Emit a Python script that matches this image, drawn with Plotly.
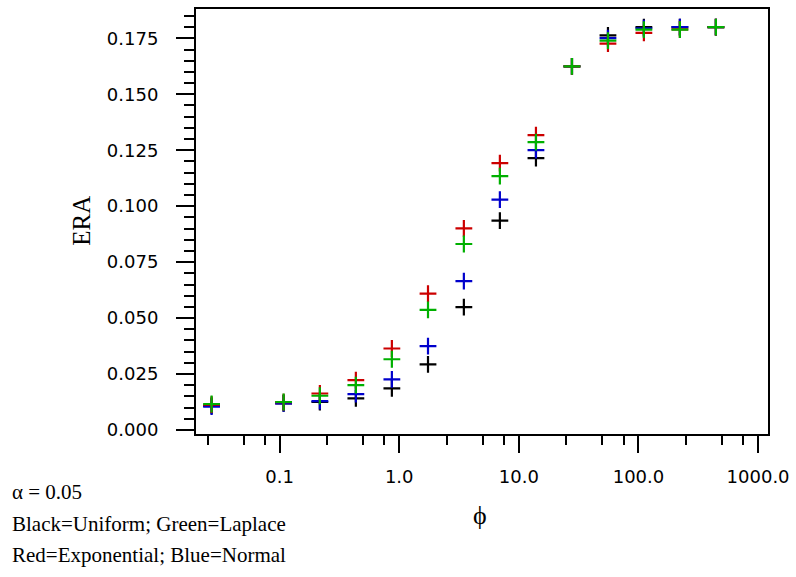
import plotly.graph_objects as go

phi = [0.027, 0.108, 0.217, 0.434, 0.868, 1.74, 3.47, 6.94, 13.9, 27.8, 55.6, 111, 222, 444]
era_uniform = [0.0108, 0.0119, 0.0125, 0.0141, 0.0186, 0.0293, 0.0549, 0.0935, 0.1215, 0.1625, 0.1763, 0.1800, 0.1800, 0.1800]
era_normal = [0.0104, 0.0119, 0.0129, 0.0160, 0.0226, 0.0375, 0.0665, 0.1029, 0.1250, 0.1625, 0.1751, 0.1795, 0.1800, 0.1800]
era_exponential = [0.0113, 0.0124, 0.0163, 0.0223, 0.0364, 0.0609, 0.0901, 0.1192, 0.1317, 0.1625, 0.1726, 0.1774, 0.1790, 0.1800]
era_laplace = [0.0116, 0.0125, 0.0153, 0.0200, 0.0316, 0.0537, 0.0831, 0.1134, 0.1286, 0.1625, 0.1740, 0.1789, 0.1789, 0.1800]

x_tickvals = [0.1, 1, 10, 100, 1000]
x_ticktext = ["0.1", "1.0", "10.0", "100.0", "1000.0"]
x_minorvals = [m * 10.0 ** e for e in range(-2, 3) for m in (2.5, 5, 7.5)]

series = [
    ("Uniform", era_uniform, "#000000"),
    ("Normal", era_normal, "#0000cc"),
    ("Exponential", era_exponential, "#cc0000"),
    ("Laplace", era_laplace, "#00b000"),
]

fig = go.Figure()
for name, vals, col in series:
    fig.add_trace(go.Scatter(
        x=phi, y=vals, mode="markers", name=name,
        marker=dict(symbol="cross-thin", size=12, color=col,
                    line=dict(color=col, width=2.2)),
        showlegend=False,
    ))

tickfont = dict(family="DejaVu Sans", size=18, color="black")
fig.update_xaxes(
    type="log", range=[-1.699, 3.083],
    tickmode="array", tickvals=x_tickvals, ticktext=x_ticktext,
    ticks="outside", ticklen=17, tickwidth=2, tickcolor="black",
    minor=dict(tickmode="array", tickvals=x_minorvals, ticks="outside",
               ticklen=9, tickwidth=2, tickcolor="black", showgrid=False),
    showline=True, linewidth=2, linecolor="black", mirror=True,
    showgrid=False, zeroline=False, tickfont=tickfont, ticklabelstandoff=8,
)
fig.update_yaxes(
    range=[-0.0018, 0.1881], tickmode="linear", tick0=0, dtick=0.025,
    tickformat=".3f",
    ticks="outside", ticklen=18, tickwidth=2, tickcolor="black",
    minor=dict(dtick=0.005, ticks="outside", ticklen=10, tickwidth=2,
               tickcolor="black", showgrid=False),
    showline=True, linewidth=2, linecolor="black", mirror=True,
    showgrid=False, zeroline=False, tickfont=tickfont, ticklabelstandoff=14,
)

serif = "Liberation Serif, Times New Roman, serif"
W = 771.7 - 196
H = 434 - 7

def px(x):
    return (x - 196) / W

def py(y):
    return (434 - y) / H

annotations = [
    dict(text="ERA", x=px(80), y=py(220), textangle=-90,
         font=dict(family=serif, size=25, color="black")),
    dict(text="\u03d5", x=px(482), y=py(516),
         font=dict(family=serif, size=26, color="black")),
    dict(text="\u03b1 = 0.05", x=px(9), y=py(492), xanchor="left",
         font=dict(family=serif, size=21, color="black")),
    dict(text="Black=Uniform; Green=Laplace", x=px(9), y=py(524), xanchor="left",
         font=dict(family=serif, size=21, color="black")),
    dict(text="Red=Exponential; Blue=Normal", x=px(9), y=py(556), xanchor="left",
         font=dict(family=serif, size=21, color="black")),
]
for a in annotations:
    a.update(xref="paper", yref="paper", showarrow=False, yanchor="middle")
    a.setdefault("xanchor", "center")

fig.update_layout(
    width=796, height=577,
    margin=dict(l=196, r=796 - 771.7, t=7, b=577 - 434),
    paper_bgcolor="white", plot_bgcolor="white",
    annotations=annotations,
)

fig.write_html("out.html", config={"displayModeBar": False},
               post_script="document.body.style.margin='0px';")
